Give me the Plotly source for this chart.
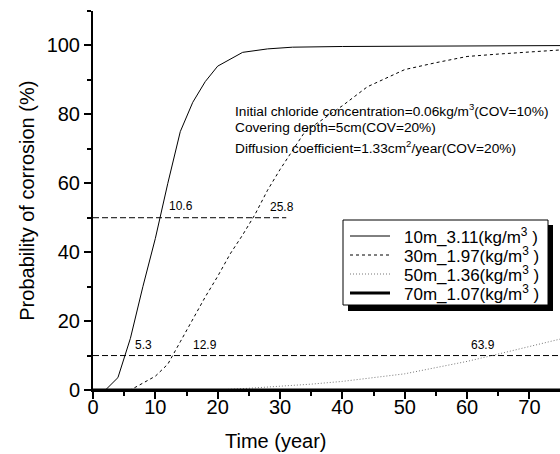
import plotly.graph_objects as go

# ---- data ----
t10 = [0, 2, 4, 6, 8, 10, 12, 14, 16, 18, 20, 24, 28, 32, 40, 50, 60, 70, 80]
p10 = [0, 0, 3.6, 15, 30, 44, 60, 75, 83.5, 89.5, 94, 98, 99, 99.5, 99.7, 99.8, 99.9, 100, 100]

t30 = [0, 6, 10, 12, 14, 16, 18, 20, 22, 24, 26, 28, 30, 34, 40, 44, 50, 55, 60, 65, 70, 75, 80]
p30 = [0, 0, 4, 7.5, 14, 20.5, 27, 33, 39.5, 45, 51, 58, 64, 75, 82.5, 88, 93, 95, 96.8, 97.5, 98.2, 98.7, 99]

t50 = [0, 20, 25, 30, 35, 40, 45, 50, 55, 60, 64, 70, 75, 80]
p50 = [0, 0, 0.5, 1, 1.7, 2.5, 3.5, 4.7, 6.5, 8.3, 10, 12.5, 14.8, 17]

t70 = [0, 20, 40, 60, 80]
p70 = [0, 0, 0, 0, 0]

ref50_x = [0, 31]
ref50_y = [50, 50]
ref10_x = [0, 80]
ref10_y = [10, 10]

names = ["10m_3.11(kg/m<sup>3</sup> )", "30m_1.97(kg/m<sup>3</sup> )",
         "50m_1.36(kg/m<sup>3</sup> )", "70m_1.07(kg/m<sup>3</sup> )"]

cross_labels = ["10.6", "25.8", "5.3", "12.9", "63.9"]
cross_x = [11.9, 28.1, 6.4, 15.7, 60.3]
cross_y = [53.3, 53.0, 13.0, 13.2, 13.0]

info_lines = ["Initial chloride concentration=0.06kg/m<sup>3</sup>(COV=10%)",
              "Covering depth=5cm(COV=20%)",
              "Diffusion coefficient=1.33cm<sup>2</sup>/year(COV=20%)"]
info_y = [81.2, 76.2, 70.4]

FONT = "Arial, Liberation Sans, sans-serif"

# plot-area geometry in pixels (for the hand-drawn legend box)
W, H = 560, 454
ML, MR, MT, MB = 93, 0, 11, 64
PW, PH = W - ML - MR, H - MT - MB


def px(xp):
    return (xp - ML) / PW


def py(yp):
    return (H - MB - yp) / PH


styles = [dict(color="black", width=1),
          dict(color="black", width=1, dash="3px,3px"),
          dict(color="#777777", width=1, dash="1px,2px"),
          dict(color="black", width=3)]

fig = go.Figure()
fig.add_trace(go.Scatter(x=ref50_x, y=ref50_y, mode="lines", showlegend=False,
                         line=dict(color="black", width=1, dash="6px,3px")))
fig.add_trace(go.Scatter(x=ref10_x, y=ref10_y, mode="lines", showlegend=False,
                         line=dict(color="black", width=1, dash="6px,3px")))
for tx, ty, nm, st in zip([t10, t30, t50, t70], [p10, p30, p50, p70], names, styles):
    fig.add_trace(go.Scatter(x=tx, y=ty, mode="lines", name=nm, showlegend=False, line=st))

annotations = []
for txt, x, y in zip(cross_labels, cross_x, cross_y):
    annotations.append(dict(x=x, y=y, xref="x", yref="y", text=txt, showarrow=False,
                            xanchor="left", yanchor="middle",
                            font=dict(family=FONT, size=12, color="black")))
for txt, y in zip(info_lines, info_y):
    annotations.append(dict(x=22.45, y=y, xref="x", yref="y", text=txt, showarrow=False,
                            xanchor="left", yanchor="middle",
                            font=dict(family=FONT, size=13.7, color="black")))
annotations.append(dict(x=29.2, y=0, xref="x", yref="paper", yshift=-51,
                        text="Time (year)", showarrow=False, xanchor="center",
                        yanchor="middle", font=dict(family=FONT, size=20, color="black")))
annotations.append(dict(x=-0.143, y=0.5, xref="paper", yref="paper",
                        text="Probability of corrosion (%)", textangle=-90,
                        showarrow=False, xanchor="center", yanchor="middle",
                        font=dict(family=FONT, size=20, color="black")))

# legend (drawn by hand to reproduce the boxed legend with drop shadow)
shapes = [
    dict(type="rect", xref="paper", yref="paper", x0=px(348), x1=px(553), y0=py(311), y1=py(225),
         fillcolor="black", line=dict(width=0), layer="above"),
    dict(type="rect", xref="paper", yref="paper", x0=px(343), x1=px(548), y0=py(305), y1=py(220),
         fillcolor="white", line=dict(color="black", width=1), layer="above"),
]
row_y = [236, 255, 274, 293]
for nm, st, ry in zip(names, styles, row_y):
    shapes.append(dict(type="line", xref="paper", yref="paper", x0=px(350), x1=px(390),
                       y0=py(ry), y1=py(ry), line=st, layer="above"))
    annotations.append(dict(x=px(402), y=py(ry), xref="paper", yref="paper", text=nm,
                            showarrow=False, xanchor="left", yanchor="middle",
                            font=dict(family=FONT, size=17, color="black")))

fig.update_layout(
    width=W, height=H,
    margin=dict(l=ML, r=MR, t=MT, b=MB),
    paper_bgcolor="white", plot_bgcolor="white",
    font=dict(family=FONT, color="black"),
    annotations=annotations,
    shapes=shapes,
    showlegend=False,
)
fig.update_xaxes(range=[0, 74.9], showgrid=False, zeroline=False,
                 showline=True, linecolor="black", linewidth=2,
                 ticks="outside", ticklen=7, tickwidth=1.5, tickcolor="black",
                 dtick=10, tick0=0, ticklabelstandoff=-9,
                 minor=dict(ticks="outside", ticklen=4, dtick=5, tickcolor="black", tickwidth=1.5),
                 tickfont=dict(family=FONT, size=20, color="black"))
fig.update_yaxes(range=[0, 110], showgrid=False, zeroline=False,
                 showline=True, linecolor="black", linewidth=2,
                 ticks="outside", ticklen=7, tickwidth=1.5, tickcolor="black",
                 dtick=20, tick0=0,
                 minor=dict(ticks="outside", ticklen=4, dtick=10, tickcolor="black", tickwidth=1.5),
                 tickfont=dict(family=FONT, size=20, color="black"))

fig.write_html("out.html")
